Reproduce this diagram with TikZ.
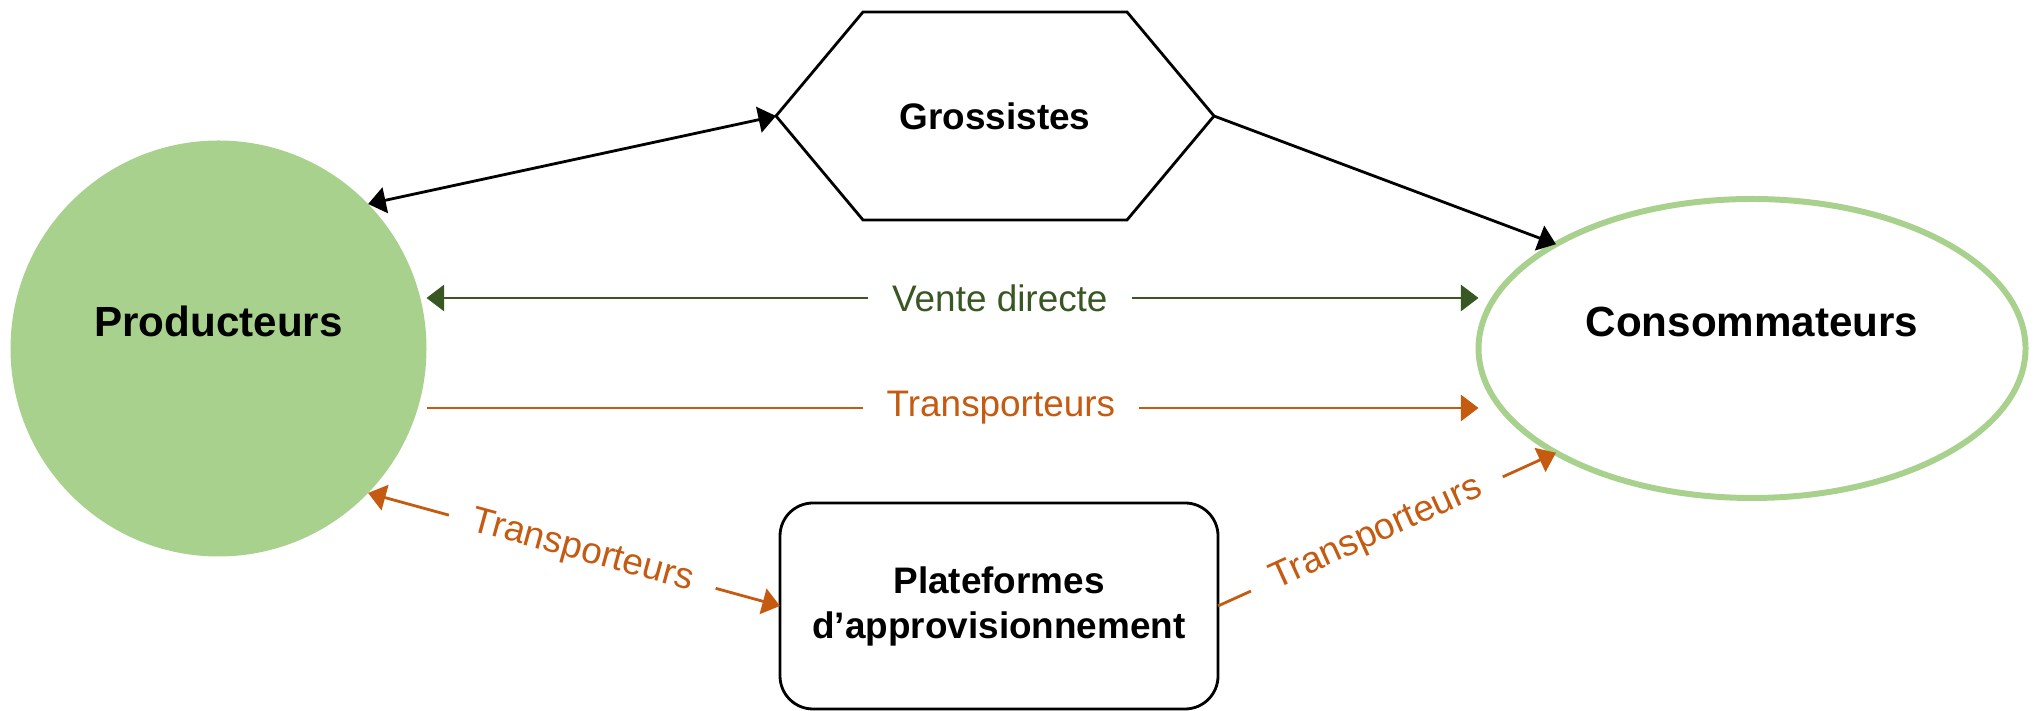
\documentclass[tikz,border=0pt]{standalone}
\usepackage{fontspec}
\setmainfont{Liberation Sans}
\usetikzlibrary{shapes.geometric,arrows.meta}
\definecolor{leafgreen}{HTML}{A9D18E}
\definecolor{darkgreen}{HTML}{385723}
\definecolor{rust}{HTML}{C55A11}

\begin{document}
\begin{tikzpicture}[
  bigtxt/.style={font=\fontsize{12}{14}\selectfont\bfseries},
  boxtxt/.style={font=\fontsize{10.5}{12.8}\selectfont\bfseries, align=center},
  flowtxt/.style={font=\fontsize{10.5}{12.6}\selectfont, fill=white, inner xsep=0.24cm, inner ysep=0.05cm},
  onehead/.style={line width=0.8pt, -{Triangle[length=5pt,width=7.4pt]}},
  twohead/.style={line width=0.8pt, {Triangle[length=5pt,width=7.4pt]}-{Triangle[length=5pt,width=7.4pt]}}
]
\useasboundingbox (0,0) rectangle (20.39,7.11);
%Producers
\node[circle, fill=leafgreen, minimum size=4.16cm, inner sep=0pt, outer sep=0pt] (prod) at (2.185,3.625) {};
\node[bigtxt] (prodname) at ([yshift=0.27cm]prod.center) {Producteurs};
%Consumers
\node[ellipse, draw=leafgreen, line width=1.7pt, minimum width=5.47cm, minimum height=2.99cm, inner sep=0pt, outer sep=0pt] (cons) at (17.52,3.625) {};
\node[bigtxt] (consname) at ([yshift=0.27cm]cons.center) {Consommateurs};
%Wholesalers
\node[boxtxt, minimum width=4.38cm, minimum height=2.08cm, outer sep=0pt] (gros) at (9.95,5.95) {Grossistes};
\draw[line width=0.8pt] (gros.west) -- ([xshift=0.87cm]gros.north west) -- ([xshift=-0.87cm]gros.north east) -- (gros.east) -- ([xshift=-0.87cm]gros.south east) -- ([xshift=0.87cm]gros.south west) -- cycle;
%Supply platforms
\node[boxtxt, draw, line width=0.8pt, rounded corners=0.33cm, minimum width=4.38cm, minimum height=2.06cm, outer sep=0pt] (plat) at (9.99,1.05) {Plateformes\\d’approvisionnement};
%Links
\draw[twohead] (prod.44) -- (gros.west);
\draw[onehead] (gros.east) -- (cons.152);
\draw[twohead, darkgreen] ([yshift=5.05mm]prod.east) -- node[flowtxt, pos=0.545] (vente) {Vente directe} ([yshift=5.05mm]cons.west);
\draw[onehead, rust] ([yshift=-5.95mm]prod.east) -- node[flowtxt, pos=0.546] (trdirect) {Transporteurs} ([yshift=-5.95mm]cons.west);
\draw[twohead, rust] (prod.-44) -- node[flowtxt, sloped, pos=0.52] (trplat) {Transporteurs} (plat.west);
\draw[onehead, rust] (plat.east) -- node[flowtxt, sloped, pos=0.47] (trcons) {Transporteurs} (cons.208);
\end{tikzpicture}
\end{document}
